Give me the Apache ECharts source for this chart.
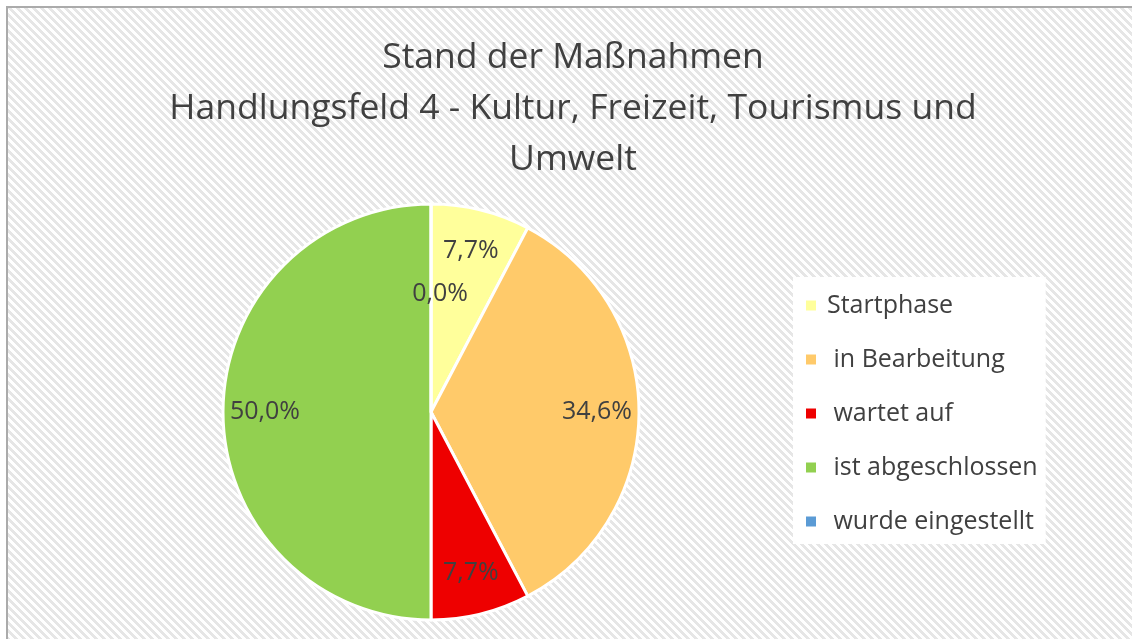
<!DOCTYPE html>
<html>
<head>
<meta charset="utf-8">
<script src="https://cdn.jsdelivr.net/npm/echarts@6/dist/echarts.min.js"></script>
<style>
  html, body { margin: 0; padding: 0; background: #fff; }
  #chart { width: 1132px; height: 639px; }
</style>
</head>
<body>
<div id="chart"></div>
<script>
// Daten
const titleLines = ['Stand der Maßnahmen', 'Handlungsfeld 4 - Kultur, Freizeit, Tourismus und', 'Umwelt']
const categories = ['Startphase', ' in Bearbeitung', ' wartet auf', ' ist abgeschlossen', ' wurde eingestellt']
const shares = [7.7, 34.6, 7.7, 50.0, 0.0]
const colors = ['#ffff9b', '#ffca6a', '#ee0000', '#92d050', '#5b9bd5']

// Schraffur für den Hintergrund
function hatch() {
  const n = 8
  const c = document.createElement('canvas')
  c.width = n
  c.height = n
  const ctx = c.getContext('2d')
  const img = ctx.createImageData(n, n)
  for (let y = 0; y < n; y++) {
    for (let x = 0; x < n; x++) {
      const k = (((x - y) % n) + n) % n
      const v = k < 4 ? 230 : 255
      const i = (y * n + x) * 4
      img.data[i] = v
      img.data[i + 1] = v
      img.data[i + 2] = v
      img.data[i + 3] = 255
    }
  }
  ctx.putImageData(img, 0, 0)
  return c
}

const fmt = p => p.value.toFixed(1).replace('.', ',') + '%'

const pieData = categories.map((name, i) => ({
  name,
  value: shares[i],
  itemStyle: { color: colors[i] },
}))

const labelData = categories.map((name, i) => ({
  name,
  value: shares[i],
  // 0,0% sitzt bei Excel weiter innen
  label: shares[i] === 0 ? { offset: [9, 48] } : undefined,
}))

const chart = echarts.init(document.getElementById('chart'))
chart.setOption({
  backgroundColor: { image: hatch(), repeat: 'repeat' },
  color: colors,
  legend: {
    orient: 'vertical',
    left: 793,
    top: 277,
    padding: [16, 8, 10, 11],
    backgroundColor: '#fff',
    itemGap: 29,
    itemWidth: 12,
    itemHeight: 12,
    icon: 'rect',
    selectedMode: false,
    textStyle: {
      fontFamily: 'Open Sans',
      fontSize: 25,
      color: '#404040',
      padding: [0, 0, 0, 5],
    },
    data: categories,
  },
  graphic: [
    { type: 'rect', shape: { x: 0, y: 0, width: 1132, height: 6 }, style: { fill: '#fff' }, silent: true },
    { type: 'rect', shape: { x: 0, y: 0, width: 6, height: 639 }, style: { fill: '#fff' }, silent: true },
    {
      type: 'rect',
      shape: { x: 7, y: 7, width: 1200, height: 700 },
      style: { fill: 'none', stroke: '#ababab', lineWidth: 2 },
      silent: true,
    },
    // Titel (Mitte liegt bei Excel leicht rechts)
    {
      type: 'text',
      x: 573,
      y: 32,
      silent: true,
      style: {
        text: titleLines.join('\n'),
        align: 'center',
        verticalAlign: 'top',
        fontFamily: 'Open Sans',
        fontSize: 35.5,
        lineHeight: 51,
        fill: '#404040',
      },
    },
  ],
  series: [
    {
      type: 'pie',
      center: [431, 412],
      radius: 208,
      startAngle: 90,
      clockwise: true,
      silent: true,
      label: { show: false },
      labelLine: { show: false },
      itemStyle: { borderColor: '#fff', borderWidth: 3 },
      data: pieData,
    },
    {
      // unsichtbarer Ring nur für die Beschriftung
      type: 'pie',
      center: [431, 412],
      radius: [118, 208],
      startAngle: 90,
      clockwise: true,
      silent: true,
      itemStyle: { color: 'rgba(0,0,0,0)' },
      label: {
        show: true,
        position: 'inside',
        formatter: fmt,
        fontFamily: 'Open Sans',
        fontSize: 25,
        color: '#404040',
      },
      labelLine: { show: false },
      data: labelData,
    },
  ],
})
</script>
</body>
</html>
